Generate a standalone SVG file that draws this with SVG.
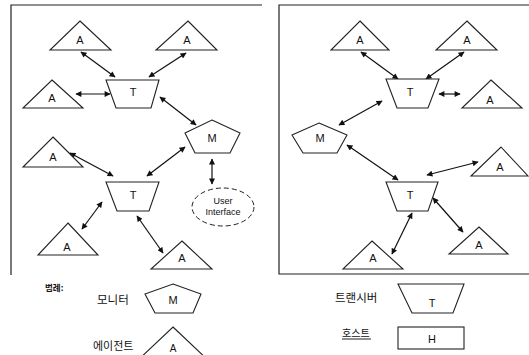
<svg xmlns="http://www.w3.org/2000/svg" width="529" height="355" viewBox="0 0 529 355">
<style>
.s{fill:#fff;stroke:#222;stroke-width:1.1}
.t{font-family:"Liberation Sans",Arial,sans-serif;font-size:11px;fill:#111;text-anchor:middle}
.k{font-family:"Noto Sans CJK KR","Noto Sans",sans-serif;font-size:11.5px;fill:#111}
.c{stroke:#111;stroke-width:1.2;fill:none;marker-start:url(#ah);marker-end:url(#ah)}
.f{stroke:#222;stroke-width:1.2;fill:none}
</style>
<defs>
<marker id="ah" viewBox="0 0 10 10" refX="9" refY="5" markerWidth="7" markerHeight="6" orient="auto-start-reverse" markerUnits="userSpaceOnUse"><path d="M0,0 L10,5 L0,10 z" fill="#111"/></marker>
</defs>
<g id="frames">
<path class="f" d="M262,5 H11 V275"/>
<path class="f" d="M529,5 H279 V274 H529"/>
</g>
<g id="connectors">
<line class="c" x1="81" y1="52" x2="115" y2="77"/>
<line class="c" x1="186" y1="53" x2="149" y2="77"/>
<line class="c" x1="76" y1="94" x2="110" y2="94"/>
<line class="c" x1="160" y1="97" x2="196" y2="125"/>
<line class="c" x1="70" y1="153" x2="113" y2="176"/>
<line class="c" x1="185" y1="147" x2="147" y2="176"/>
<line class="c" x1="212" y1="159" x2="212" y2="184"/>
<line class="c" x1="102" y1="202" x2="82" y2="229"/>
<line class="c" x1="137" y1="216" x2="163" y2="253"/>
<line class="c" x1="361" y1="52" x2="398" y2="79"/>
<line class="c" x1="464" y1="52" x2="426" y2="79"/>
<line class="c" x1="439" y1="94" x2="460" y2="94"/>
<line class="c" x1="382" y1="101" x2="339" y2="125"/>
<line class="c" x1="347" y1="145" x2="398" y2="180"/>
<line class="c" x1="427" y1="175" x2="478" y2="162"/>
<line class="c" x1="433" y1="198" x2="463" y2="232"/>
<line class="c" x1="412" y1="213" x2="392" y2="254"/>
</g>
<g id="A1"><polygon class="s" points="80,21 111,50 50,50"/><text class="t" x="80" y="44">A</text></g>
<g id="A2"><polygon class="s" points="188,21 217,50 156,50"/><text class="t" x="187" y="44">A</text></g>
<g id="A3"><polygon class="s" points="52,80 83,108 23,108"/><text class="t" x="52" y="102">A</text></g>
<g id="T1"><polygon class="s" points="106,80 159,80 151,108 116,108"/><text class="t" x="133" y="96">T</text></g>
<g id="M1"><polygon class="s" points="212,120 240,133 230,153 195,153 185,133"/><text class="t" x="212" y="142">M</text></g>
<g id="A4"><polygon class="s" points="53,137 83,167 23,167"/><text class="t" x="53" y="161">A</text></g>
<g id="T2"><polygon class="s" points="106,182 159,182 149,211 117,211"/><text class="t" x="133" y="199">T</text></g>
<g id="UI"><ellipse cx="223" cy="207" rx="31" ry="19" fill="#fff" stroke="#222" stroke-width="1" stroke-dasharray="5,3"/><text class="t" style="font-size:9px" x="223" y="204">User</text><text class="t" style="font-size:9px" x="223" y="215">Interface</text></g>
<g id="A5"><polygon class="s" points="68,223 98,255 38,255"/><text class="t" x="67" y="251">A</text></g>
<g id="A6"><polygon class="s" points="182,241 212,269 151,269"/><text class="t" x="182" y="262">A</text></g>
<g id="A7"><polygon class="s" points="360,21 389,50 331,50"/><text class="t" x="360" y="44">A</text></g>
<g id="A8"><polygon class="s" points="467,21 497,50 436,50"/><text class="t" x="467" y="44">A</text></g>
<g id="T3"><polygon class="s" points="386,79 439,79 428,108 397,108"/><text class="t" x="410" y="96">T</text></g>
<g id="A9"><polygon class="s" points="491,80 522,108 462,108"/><text class="t" x="490" y="104">A</text></g>
<g id="M2"><polygon class="s" points="319,123 347,135 337,153 303,153 292,135"/><text class="t" x="320" y="142">M</text></g>
<g id="A10"><polygon class="s" points="501,147 528,176 471,176"/><text class="t" x="500" y="171">A</text></g>
<g id="T4"><polygon class="s" points="386,182 438,182 428,211 397,211"/><text class="t" x="410" y="199">T</text></g>
<g id="A11"><polygon class="s" points="479,227 508,254 449,254"/><text class="t" x="479" y="249">A</text></g>
<g id="A12"><polygon class="s" points="372,241 403,269 343,269"/><text class="t" x="373" y="262">A</text></g>
<g id="legend">
<text class="k" style="font-size:8.5px;font-weight:bold" x="45" y="291">범례:</text>
<text class="k" x="97" y="304">모니터</text>
<g id="LM"><polygon class="s" points="173,284 201,294 193,313 155,313 145,294"/><text class="t" x="173" y="304">M</text></g>
<text class="k" style="font-size:11px" x="93" y="350">에이전트</text>
<g id="LA"><polygon class="s" points="173,327 210,362 136,362"/><text class="t" style="font-size:10px" x="173" y="352">A</text></g>
<text class="k" x="335" y="302">트랜시버</text>
<g id="LT"><polygon class="s" points="398,284 464,284 453,313 412,313"/><text class="t" x="432" y="307">T</text></g>
<text class="k" style="font-size:10px" x="342" y="337">호스트</text>
<line x1="342" y1="339" x2="371" y2="339" stroke="#222" stroke-width="1"/>
<g id="LH"><rect class="s" x="398" y="327" width="66" height="22"/><text class="t" x="432" y="343">H</text></g>
</g>
</svg>
